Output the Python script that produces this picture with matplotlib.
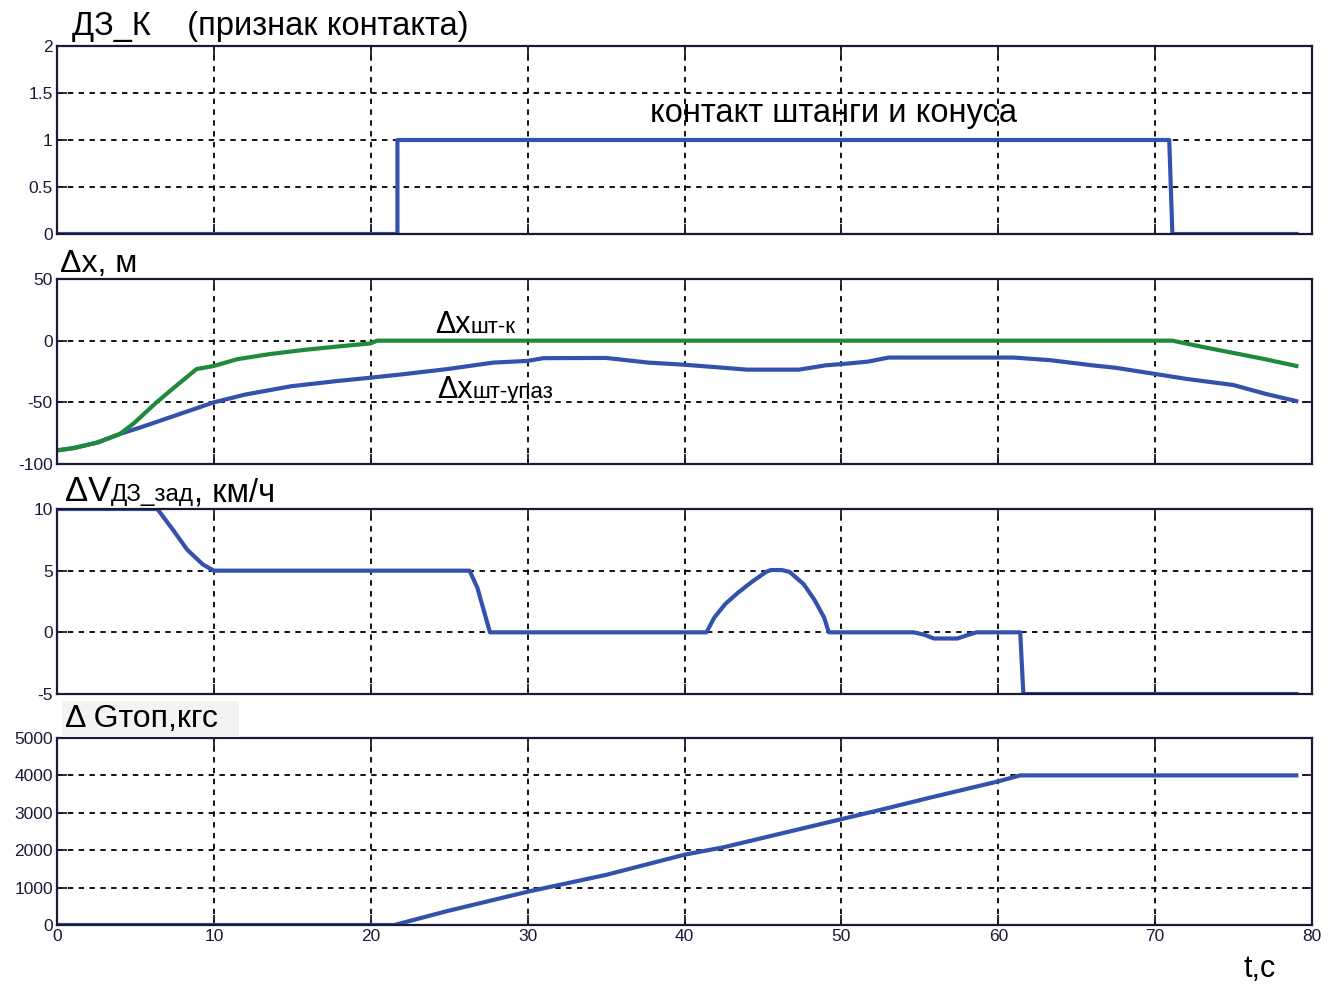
import numpy as np
import matplotlib
matplotlib.use("Agg")
import matplotlib.pyplot as plt

plt.rcParams['font.family'] = ['Liberation Sans', 'DejaVu Sans']
plt.rcParams['axes.unicode_minus'] = False

W, H = 1338, 985
BLUE = '#3252ad'
GREEN = '#1f8a3c'
FRAME = '#1c1838'

# panel 1: contact flag
t_k = [0, 21.7, 21.7, 70.9, 71.1, 79]
k_blue = [0, 0, 1, 1, 0, 0]
t_k_green = [0, 79]
k_green = [0, 0]

# panel 2: dx, m
t_dx_g = [0, 1.1, 2.6, 4.0, 4.9, 6.3, 7.7, 8.9, 10, 11.5, 13.5, 15.8, 18, 20, 20.4,
          71.1, 73, 75, 77, 79]
dx_g = [-89, -87, -82.5, -75.7, -67, -50.5, -35.5, -23, -20.5, -15, -11, -7.4, -4.6, -2.2, 0,
        0, -5, -10, -15, -20.5]
t_dx_b = [0, 1.1, 2.6, 4.0, 5.4, 7.7, 10, 12, 14.9, 17.8, 20, 22, 24.9, 27.8, 30, 31, 35,
          37.7, 40, 41.5, 44, 47.3, 49, 50, 51.7, 53, 61, 63.3, 66, 67.5, 70, 72, 75, 77, 79]
dx_b = [-89, -87, -82.5, -75.7, -70, -60, -50, -43.7, -37, -32.8, -30, -27.3, -23, -17.8,
        -16.4, -14.2, -14, -17.8, -19.5, -21, -23.5, -23.5, -20, -19, -17, -13.7, -13.7,
        -15.8, -20, -22, -27, -31, -36, -43, -49]

# panel 3: dV, km/h
t_dv = [0, 6.4, 7.4, 8.3, 9.3, 10, 26.3, 26.8, 27.2, 27.6, 41.4, 41.9, 42.6, 43.4, 44.3,
        45.2, 45.5, 46.2, 46.7, 47.6, 48.3, 48.9, 49.2, 54.6, 55.3, 55.9, 57.4, 58.1, 58.6,
        61.4, 61.6, 79]
dv = [10, 10, 8.3, 6.7, 5.5, 5, 5, 3.6, 1.8, 0, 0, 1.2, 2.3, 3.2, 4.1,
      4.9, 5.05, 5.05, 4.9, 3.9, 2.6, 1.2, 0, 0, -0.2, -0.5, -0.5, -0.2, 0,
      0, -5, -5]

# panel 4: dG fuel, kgf
t_g = [0, 21.5, 24.9, 30, 35, 40, 42.5, 45.2, 50, 52.6, 55.6, 60, 61.4, 79]
g = [0, 0, 375, 890, 1340, 1880, 2080, 2350, 2830, 3090, 3400, 3840, 4000, 4000]

xticks = [0, 10, 20, 30, 40, 50, 60, 70, 80]

fig = plt.figure(figsize=(W / 100, H / 100), dpi=100)

def px_axes(top, bottom, left=57, right=1312):
    return fig.add_axes([left / W, 1 - bottom / H, (right - left) / W, (bottom - top) / H])

ax1 = px_axes(46, 234)
ax2 = px_axes(279, 464)
ax3 = px_axes(509, 694)
ax4 = px_axes(738, 925)

ax1.plot(t_k_green, k_green, color=GREEN, lw=2.2)
ax1.plot(t_k, k_blue, color=BLUE, lw=3)
ax1.set_ylim(0, 2)
ax1.set_yticks([0, 0.5, 1, 1.5, 2])
ax1.set_yticklabels(['0', '0.5', '1', '1.5', '2'])

ax2.plot(t_dx_b, dx_b, color=BLUE, lw=3)
ax2.plot(t_dx_g, dx_g, color=GREEN, lw=3)
ax2.set_ylim(-100, 50)
ax2.set_yticks([-100, -50, 0, 50])

ax3.plot(t_dv, dv, color=BLUE, lw=3)
ax3.set_ylim(-5, 10)
ax3.set_yticks([-5, 0, 5, 10])

ax4.plot(t_g, g, color=BLUE, lw=3)
ax4.set_ylim(0, 5000)
ax4.set_yticks([0, 1000, 2000, 3000, 4000, 5000])

for ax in (ax1, ax2, ax3, ax4):
    ax.set_xlim(0, 80)
    ax.set_xticks(xticks)
    ax.grid(True, color='black', linestyle=(0, (3, 3)), lw=1.3)
    ax.tick_params(direction='in', length=7, width=1.3, right=True, top=True,
                   colors=FRAME, labelsize=12.5, pad=3)
    for s in ax.spines.values():
        s.set_color(FRAME)
        s.set_linewidth(1.6)
    if ax is not ax4:
        ax.set_xticklabels([])

fig.canvas.draw()
renderer = fig.canvas.get_renderer()

# pieces of text placed one after another on a shared baseline (pixel coords)
def chain(x, y, parts, **kw):
    for s, size in parts:
        t = fig.text(x / W, 1 - y / H, s, fontsize=size, va='baseline', ha='left', **kw)
        x += t.get_window_extent(renderer).width

chain(72, 35, [('ДЗ_К    (признак контакта)', 23.5)])
chain(60, 272, [('Δx, м', 23)])
chain(65, 501, [('ΔV', 25), ('ДЗ_зад', 17.5), (', км/ч', 23.5)])
fig.text(65 / W, 1 - 727 / H, 'Δ Gтоп,кгс  ', fontsize=23, va='baseline', ha='left',
         bbox=dict(facecolor='#f3f3f3', edgecolor='none', pad=2))
chain(1243, 977, [('t,c', 22)])

# annotations inside axes
ax1.text(37.8, 1.19, 'контакт штанги и конуса', fontsize=23.5, va='baseline')

def ax_chain(ax, xd, yd, parts):
    x, y = ax.transData.transform((xd, yd))
    chain(x, H - y, parts)

ax_chain(ax2, 24.1, 6.3, [('Δx', 22), ('шт-к', 16)])
ax_chain(ax2, 24.2, -46.5, [('Δx', 22), ('шт-упаз', 16)])

fig.savefig('out.png', dpi=100)
